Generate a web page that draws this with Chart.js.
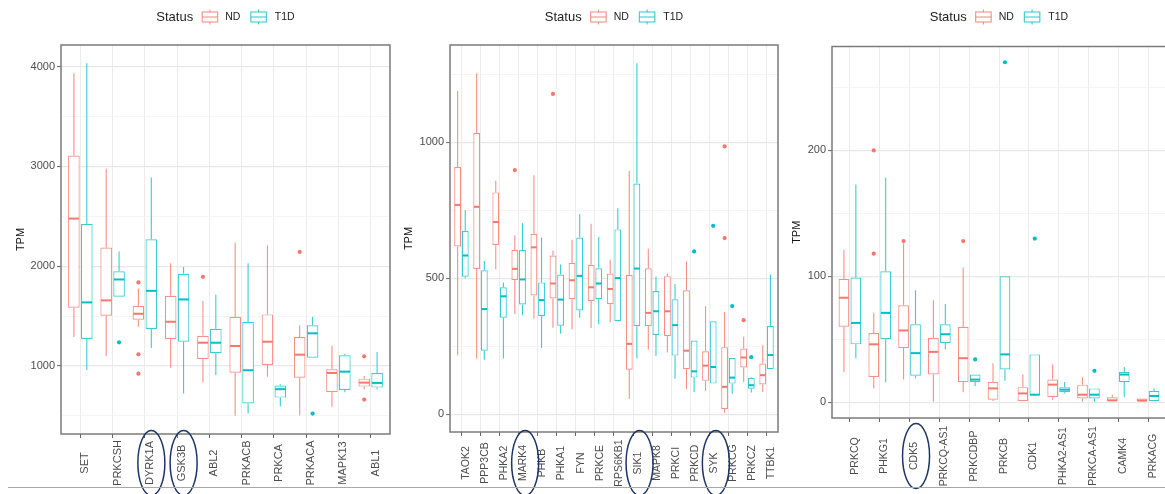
<!DOCTYPE html>
<html>
<head>
<meta charset="utf-8">
<script src="https://cdn.jsdelivr.net/npm/chart.js@4.4.1/dist/chart.umd.min.js"></script>
<style>
  html, body { margin: 0; padding: 0; background: #fff; overflow: hidden; width: 1165px; height: 494px; }
  canvas.panel { position: absolute; top: 0; }
  #rule { position: absolute; left: 8px; width: 1157px; top: 487px; height: 1px; background: #a8a8a8; }
</style>
</head>
<body>
<canvas id="c1" class="panel" style="left:0px" width="392" height="494"></canvas>
<canvas id="c2" class="panel" style="left:392px" width="388" height="494"></canvas>
<canvas id="c3" class="panel" style="left:780px" width="388" height="494"></canvas>
<div id="rule"></div>
<script>
// Box statistics per gene: [lower whisker, Q1, median, Q3, upper whisker] in TPM.

// ---- Panel 1 ----
const genes1 = ['SET', 'PRKCSH', 'DYRK1A', 'GSK3B', 'ABL2', 'PRKACB', 'PRKCA', 'PRKACA', 'MAPK13', 'ABL1'];
const nd1 = [
  [1290, 1583, 2477, 3110, 3933],
  [1100, 1503, 1657, 2187, 2977],
  [1393, 1463, 1523, 1600, 1773],
  [983, 1270, 1443, 1703, 2030],
  [837, 1070, 1233, 1303, 1650],
  [500, 933, 1200, 1493, 2237],
  [893, 1010, 1243, 1517, 2207],
  [503, 883, 1113, 1290, 1407],
  [590, 737, 930, 967, 1203],
  [767, 793, 833, 873, 900]
];
const t1d1 = [
  [960, 1270, 1637, 2423, 4033],
  [1693, 1693, 1867, 1950, 2147],
  [1180, 1370, 1753, 2270, 2890],
  [723, 1243, 1667, 1923, 1993],
  [910, 1127, 1233, 1373, 1713],
  [523, 623, 957, 1443, 2030],
  [593, 683, 767, 803, 817],
  [1083, 1083, 1327, 1407, 1493],
  [737, 760, 943, 1107, 1123],
  [763, 783, 830, 930, 1140]
];
const ndOut1 = [[], [], [1837, 1117, 923], [], [1893], [], [], [2143], [], [1097, 663]];
const t1dOut1 = [[], [1237], [], [], [], [], [], [523], [], []];
const yTicks1 = [500, 1000, 1500, 2000, 2500, 3000, 3500, 4000];
const yLabels1 = [1000, 2000, 3000, 4000];
const circled1 = ['DYRK1A', 'GSK3B'];

// ---- Panel 2 ----
const genes2 = ['TAOK2', 'PPP3CB', 'PHKA2', 'MARK4', 'PHKB', 'PHKA1', 'FYN', 'PRKCE', 'RPS6KB1',
  'SIK1', 'MAPK8', 'PRKCI', 'PRKCD', 'SYK', 'PRKCG', 'PRKCZ', 'TTBK1'];
const nd2 = [
  [217, 617, 770, 909, 1189],
  [204, 534, 763, 1034, 1254],
  [533, 622, 707, 816, 859],
  [368, 494, 535, 604, 658],
  [351, 437, 614, 664, 879],
  [318, 426, 481, 584, 602],
  [313, 423, 493, 557, 642],
  [317, 417, 467, 550, 701],
  [339, 405, 461, 518, 568],
  [56, 164, 259, 512, 896],
  [238, 324, 373, 537, 609],
  [227, 287, 379, 508, 517],
  [93, 166, 234, 456, 562],
  [86, 123, 179, 232, 398],
  [6, 20, 101, 247, 377],
  [119, 172, 209, 242, 285],
  [82, 110, 144, 187, 254]
];
const t1d2 = [
  [500, 506, 584, 674, 750],
  [201, 234, 387, 530, 564],
  [205, 355, 434, 467, 485],
  [364, 404, 496, 604, 703],
  [244, 361, 420, 485, 650],
  [296, 326, 422, 514, 551],
  [355, 382, 509, 650, 736],
  [331, 423, 481, 537, 652],
  [342, 342, 501, 680, 758],
  [206, 324, 536, 849, 1291],
  [214, 292, 379, 453, 507],
  [131, 216, 328, 423, 479],
  [82, 135, 158, 271, 271],
  [113, 113, 174, 342, 342],
  [76, 113, 135, 207, 207],
  [80, 94, 107, 134, 135],
  [166, 166, 218, 325, 514]
];
const ndOut2 = [[], [], [], [898], [], [1178], [], [], [], [], [], [], [], [], [985, 648], [346], []];
const t1dOut2 = [[], [], [], [], [], [], [], [], [], [], [], [], [599], [693], [398], [210], []];
const yTicks2 = [0, 250, 500, 750, 1000, 1250];
const yLabels2 = [0, 500, 1000];
const circled2 = ['MARK4', 'SIK1', 'SYK'];

// ---- Panel 3 ----
const genes3 = ['PRKCQ', 'PHKG1', 'CDK5', 'PRKCQ-AS1', 'PRKCDBP', 'PRKCB', 'CDK1', 'PHKA2-AS1',
  'PRKCA-AS1', 'CAMK4', 'PRKACG'];
const nd3 = [
  [24, 60, 83, 98, 121],
  [11, 20, 46, 55, 71],
  [18, 43, 57, 77, 126],
  [0.5, 22, 40, 51, 81],
  [8, 16, 35, 60, 107],
  [1, 2, 11, 16, 31],
  [1, 1, 7, 12, 22],
  [2, 4, 14, 18, 30],
  [0.5, 3, 6, 14, 20],
  [1, 1, 1.5, 4, 6],
  [0.8, 0.8, 1.3, 3, 3]
];
const t1d3 = [
  [35, 46, 63, 99, 173],
  [16, 50, 71, 104, 178],
  [19, 21, 39, 62, 89],
  [42, 47, 54, 62, 78],
  [13, 16, 18, 22, 22],
  [17, 26, 38, 100, 100],
  [5.5, 5.5, 6, 38, 38],
  [7, 8, 10, 12, 16],
  [0.5, 3, 6, 11, 11],
  [4, 16, 22, 24, 28],
  [1, 1, 5, 9, 11]
];
const ndOut3 = [[], [200, 118], [128], [], [128], [], [], [], [], [], []];
const t1dOut3 = [[], [], [], [], [34], [270], [130], [], [25], [], []];
const yTicks3 = [0, 50, 100, 150, 200, 250];
const yLabels3 = [0, 100, 200];
const circled3 = ['CDK5'];

// ---- Styling ----
const FONT = '"Liberation Sans", Arial, Helvetica, sans-serif';
const ND_LINE = 'rgba(248,118,109,0.82)';
const ND_SOLID = '#F8766D';
const T1D_LINE = 'rgba(0,191,196,0.78)';
const T1D_SOLID = '#00BFC4';

function seg(ctx, x1, y1, x2, y2) {
  ctx.beginPath(); ctx.moveTo(x1, y1); ctx.lineTo(x2, y2); ctx.stroke();
}

function legendKey(ctx, x, y, col) {
  ctx.strokeStyle = col; ctx.lineWidth = 1.1;
  const cx = x + 8.25;
  seg(ctx, cx, y - 7.5, cx, y - 5);
  seg(ctx, cx, y + 5, cx, y + 7.5);
  ctx.strokeRect(x + 0.5, y - 5, 15.5, 10);
  seg(ctx, x + 0.5, y, x + 16, y);
}

function makePanel(cfg) {
  const statsPlugin = {
    id: 'boxStats',
    beforeDatasetsDraw(chart) {
      const ctx = chart.ctx, ys = chart.scales.y;
      ctx.save();
      chart.data.datasets.forEach((ds, d) => {
        const meta = chart.getDatasetMeta(d);
        ctx.strokeStyle = ds.borderColor; ctx.lineWidth = 1.1;
        meta.data.forEach((bar, i) => {
          const s = ds.stats[i];
          seg(ctx, bar.x, ys.getPixelForValue(s[4]), bar.x, ys.getPixelForValue(s[3]));
          seg(ctx, bar.x, ys.getPixelForValue(s[1]), bar.x, ys.getPixelForValue(s[0]));
        });
      });
      ctx.restore();
    },
    afterDatasetsDraw(chart) {
      const ctx = chart.ctx, ys = chart.scales.y;
      ctx.save();
      chart.data.datasets.forEach((ds, d) => {
        const meta = chart.getDatasetMeta(d);
        meta.data.forEach((bar, i) => {
          const s = ds.stats[i];
          const half = bar.width / 2;
          ctx.strokeStyle = ds.solid; ctx.lineWidth = 2;
          const my = ys.getPixelForValue(s[2]);
          seg(ctx, bar.x - half + 0.6, my, bar.x + half - 0.6, my);
          ctx.fillStyle = ds.solid;
          ds.outliers[i].forEach(v => {
            ctx.beginPath();
            ctx.arc(bar.x, ys.getPixelForValue(v), 2.1, 0, Math.PI * 2);
            ctx.fill();
          });
        });
      });
      ctx.restore();
    },
    afterDraw(chart) {
      const ctx = chart.ctx, a = chart.chartArea, xs = chart.scales.x;
      ctx.save();
      // panel border
      ctx.strokeStyle = '#7b7b7b'; ctx.lineWidth = 1.5;
      ctx.strokeRect(a.left, a.top, a.right - a.left, a.bottom - a.top);

      // rotated category labels, centred on a common line
      ctx.fillStyle = '#4d4d4d';
      ctx.font = cfg.labelSize + 'px ' + FONT;
      ctx.textAlign = 'center'; ctx.textBaseline = 'top';
      cfg.genes.forEach((g, i) => {
        const x = xs.getPixelForValue(i + 1);
        ctx.save();
        ctx.translate(x - 0.5, cfg.labelY);
        ctx.rotate(-Math.PI / 2);
        ctx.fillText(g, 0, 0);
        ctx.restore();
      });

      // hand-drawn style ellipses around highlighted genes
      ctx.strokeStyle = '#1e3467'; ctx.lineWidth = 1.5;
      cfg.circled.forEach(g => {
        const i = cfg.genes.indexOf(g);
        const x = xs.getPixelForValue(i + 1) + 6.5;
        ctx.beginPath();
        ctx.ellipse(x, cfg.labelY, 13.5, 32.5, 0, 0, Math.PI * 2);
        ctx.stroke();
      });

      // legend
      const y = 17;
      ctx.textBaseline = 'middle'; ctx.textAlign = 'left';
      ctx.font = '13px ' + FONT;
      const wTitle = ctx.measureText('Status').width;
      ctx.font = '10.5px ' + FONT;
      const wNd = ctx.measureText('ND').width, wT = ctx.measureText('T1D').width;
      const total = wTitle + 8.5 + 16.5 + 7 + wNd + 10 + 16.5 + 8 + wT;
      let x = (a.left + a.right) / 2 - total / 2;
      ctx.fillStyle = '#222';
      ctx.font = '13px ' + FONT;
      ctx.fillText('Status', x, y);
      x += wTitle + 8.5;
      legendKey(ctx, x, y, ND_LINE);
      x += 16.5 + 7;
      ctx.font = '10.5px ' + FONT;
      ctx.fillStyle = '#222';
      ctx.fillText('ND', x, y);
      x += wNd + 10;
      legendKey(ctx, x, y, T1D_LINE);
      x += 16.5 + 8;
      ctx.fillText('T1D', x, y);
      ctx.restore();
    }
  };

  const mkData = rows => rows.map((r, i) => ({ x: i + 1, y: [r[1], r[3]] }));

  return new Chart(document.getElementById(cfg.canvas), {
    type: 'bar',
    data: {
      datasets: [
        {
          label: 'ND', data: mkData(cfg.nd), stats: cfg.nd, outliers: cfg.ndOut,
          backgroundColor: '#ffffff', borderColor: ND_LINE, solid: ND_SOLID,
          borderWidth: 1.2, borderSkipped: false
        },
        {
          label: 'T1D', data: mkData(cfg.t1d), stats: cfg.t1d, outliers: cfg.t1dOut,
          backgroundColor: '#ffffff', borderColor: T1D_LINE, solid: T1D_SOLID,
          borderWidth: 1.2, borderSkipped: false
        }
      ]
    },
    options: {
      responsive: false,
      animation: false,
      devicePixelRatio: 1,
      categoryPercentage: 0.8,
      barPercentage: 0.9,
      layout: { padding: { top: cfg.top, right: 2, bottom: 0, left: 0 } },
      plugins: { legend: { display: false }, tooltip: { enabled: false } },
      scales: {
        x: {
          type: 'linear',
          offset: false,
          min: 0.4,
          max: cfg.genes.length + 0.6,
          afterBuildTicks: s => { s.ticks = cfg.genes.map((g, i) => ({ value: i + 1 })); },
          afterFit: s => { s.height = cfg.xHeight; },
          ticks: { display: false },
          grid: { offset: false, color: '#ececec', lineWidth: 1, tickLength: 4, tickColor: '#666', tickWidth: 1 },
          border: { display: false }
        },
        y: {
          type: 'linear',
          min: cfg.yMin,
          max: cfg.yMax,
          afterBuildTicks: s => { s.ticks = cfg.yTicks.map(v => ({ value: v })); },
          afterFit: s => { s.width = cfg.yWidth; },
          ticks: {
            color: '#4d4d4d',
            font: { family: FONT, size: 11 },
            padding: 2,
            callback: v => (cfg.yLabels.includes(v) ? String(v) : '')
          },
          grid: {
            color: c => (c.tick && cfg.yLabels.includes(c.tick.value) ? '#e8e8e8' : '#f3f3f3'),
            lineWidth: c => (c.tick && cfg.yLabels.includes(c.tick.value) ? 1.2 : 0.8),
            tickLength: 4,
            tickWidth: 1,
            tickColor: c => (c.tick && cfg.yLabels.includes(c.tick.value) ? '#666' : 'rgba(0,0,0,0)')
          },
          border: { display: false },
          title: {
            display: true, text: 'TPM', color: '#141414',
            font: { family: FONT, size: 11 },
            padding: { top: cfg.titlePad, bottom: 0 }
          }
        }
      }
    },
    plugins: [statsPlugin]
  });
}

makePanel({
  canvas: 'c1', genes: genes1, nd: nd1, t1d: t1d1, ndOut: ndOut1, t1dOut: t1dOut1,
  yTicks: yTicks1, yLabels: yLabels1, circled: circled1,
  yMin: 318, yMax: 4217, top: 45, yWidth: 61, xHeight: 60, titlePad: 14.1,
  labelSize: 11, labelY: 463
});
makePanel({
  canvas: 'c2', genes: genes2, nd: nd2, t1d: t1d2, ndOut: ndOut2, t1dOut: t1dOut2,
  yTicks: yTicks2, yLabels: yLabels2, circled: circled2,
  yMin: -65, yMax: 1358, top: 45, yWidth: 58, xHeight: 62, titlePad: 10.4,
  labelSize: 10.5, labelY: 463
});
makePanel({
  canvas: 'c3', genes: genes3, nd: nd3, t1d: t1d3, ndOut: ndOut3, t1dOut: t1dOut3,
  yTicks: yTicks3, yLabels: yLabels3, circled: circled3,
  yMin: -12.5, yMax: 282.5, top: 46.5, yWidth: 52, xHeight: 76, titlePad: 10.1,
  labelSize: 10.5, labelY: 456
});
</script>
</body>
</html>
